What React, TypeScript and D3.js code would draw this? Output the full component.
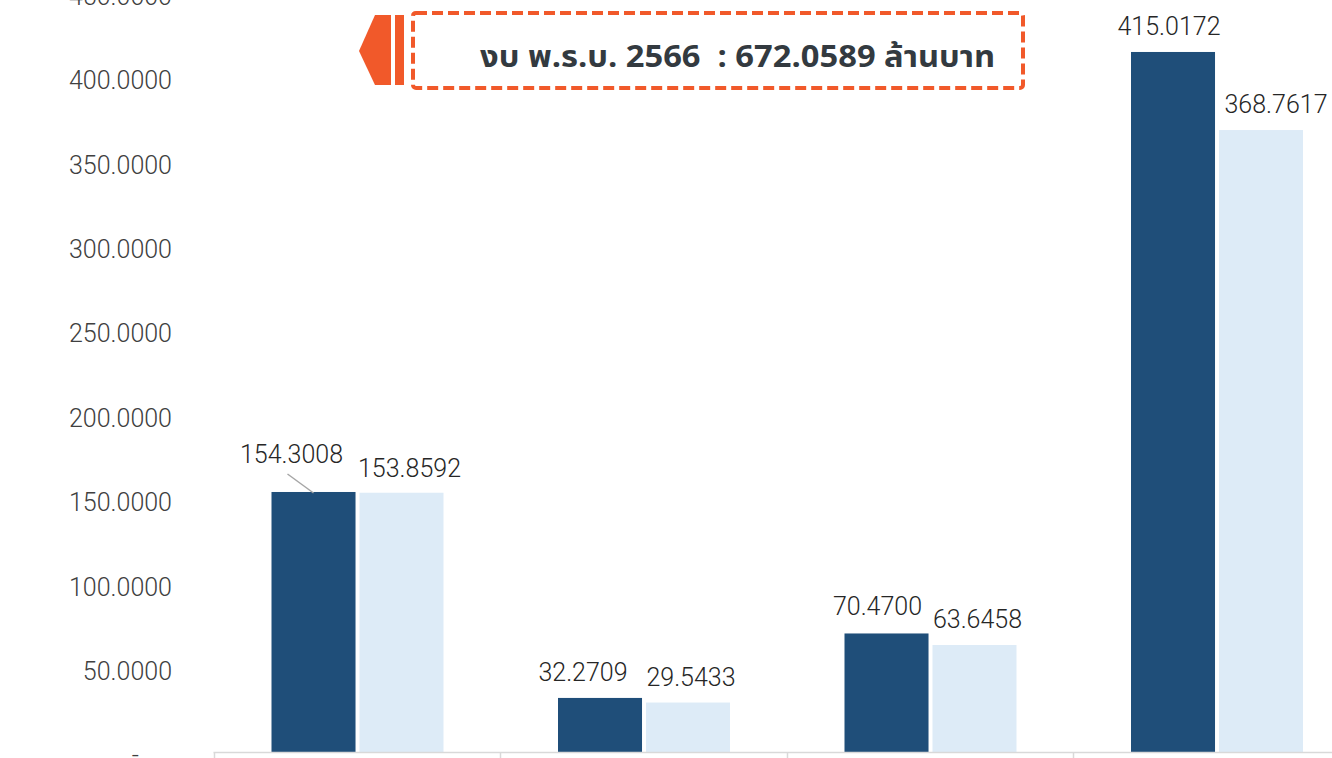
import React from "react";
import * as d3 from "d3";

const categories = ["หมวด 1", "หมวด 2", "หมวด 3", "หมวด 4"];
const seriesNames = ["งบประมาณ", "ผลการเบิกจ่าย"];
const budgetValues = [154.3008, 32.2709, 70.47, 415.0172];
const spentValues = [153.8592, 29.5433, 63.6458, 368.7617];
const yTicks = [0, 50, 100, 150, 200, 250, 300, 350, 400, 450];
const titleText = "งบ พ.ร.บ. 2566  : 672.0589 ล้านบาท";

// label nudges (dx, dy) per series, per category – layout only
const labelNudge = [
  [[-22, -12], [-17, 0], [-9, -1], [-4, 0]],
  [[8, 1], [3, 0], [3, 0], [15, 0]],
];

const W = 1332;
const H = 758;
const colors = ["#1F4E79", "#DDEBF7"];
const FONT = "Roboto, 'Noto Sans', sans-serif";
const THAI_FONT = "'Noto Sans Thai', 'Noto Sans Thai UI', 'Leelawadee UI', Tahoma, 'Noto Sans', sans-serif";

export default function App() {
  const y = d3.scaleLinear().domain([0, 450]).range([752.4, 752.4 - 450 * 1.6877]);
  const x = d3.scaleBand<string>().domain(categories).range([213.5, 1359.5]).paddingInner(0).paddingOuter(0);
  const xs = d3.scaleBand<string>().domain(seriesNames).range([58, 230]).paddingInner(0.045).paddingOuter(0);
  const series = [budgetValues, spentValues];
  const fmt = (v: number) => (v === 0 ? "-" : d3.format(".4f")(v));
  const axisY = Math.round(y(0)) + 0.5;
  const tickXs = categories.map((c) => x(c) as number);

  return (
    <svg width={W} height={H} style={{ position: "absolute", left: 0, top: 0, background: "#fff" }}>
      <rect x={0} y={0} width={W} height={H} fill="#fff" />
      {/* y tick labels */}
      <g fontFamily={FONT} fontSize={25} fontWeight={300} fill="#404040">
        {yTicks.map((t) => (
          <text key={t} x={t === 0 ? 139 : 172} y={y(t) + 3} dy="0.36em" textAnchor="end">
            {fmt(t)}
          </text>
        ))}
      </g>
      {/* bars */}
      {series.map((vals, si) => (
        <g key={si} fill={colors[si]}>
          {vals.map((v, ci) => {
            const bx = (x(categories[ci]) as number) + (xs(seriesNames[si]) as number);
            return <rect key={ci} x={bx} y={y(v)} width={xs.bandwidth()} height={y(0) - y(v)} />;
          })}
        </g>
      ))}
      {/* x axis */}
      <line x1={213.5} x2={W} y1={axisY} y2={axisY} stroke="#D9D9D9" strokeWidth={1.5} />
      {tickXs.map((tx, i) => (
        <line key={i} x1={Math.round(tx) + 0.5} x2={Math.round(tx) + 0.5} y1={axisY} y2={H} stroke="#D9D9D9" strokeWidth={1.5} />
      ))}
      {/* leader line for first label */}
      {(() => {
        const bx = (x(categories[0]) as number) + (xs(seriesNames[0]) as number) + xs.bandwidth() / 2;
        const top = y(budgetValues[0]);
        return <line x1={bx - 26} y1={top - 18} x2={bx} y2={top + 1} stroke="#A6A6A6" strokeWidth={1.5} />;
      })()}
      {/* value labels */}
      <g fontFamily={FONT} fontSize={25} fontWeight={300} fill="#262626" textAnchor="middle">
        {series.map((vals, si) =>
          vals.map((v, ci) => {
            const cx = (x(categories[ci]) as number) + (xs(seriesNames[si]) as number) + xs.bandwidth() / 2;
            const [dx, dy] = labelNudge[si][ci];
            return (
              <text key={`${si}-${ci}`} x={cx + dx} y={y(v) - 26 + dy} dy="0.36em">
                {d3.format(".4f")(v)}
              </text>
            );
          })
        )}
      </g>
      {/* title callout */}
      <polygon points="359,51 375,15 391,15 391,85 375,85" fill="#F1592A" />
      <rect x={395} y={15} width={9} height={70} fill="#F1592A" />
      <rect
        x={413}
        y={13}
        width={610}
        height={75}
        rx={3}
        fill="none"
        stroke="#F1592A"
        strokeWidth={4}
        strokeDasharray="11 5"
      />
      <text
        x={480}
        y={67}
        fontFamily={THAI_FONT}
        fontWeight="bold"
        fontSize={30}
        fill="#333A40"
        textLength={515}
        lengthAdjust="spacingAndGlyphs"
        style={{ whiteSpace: "pre" }}
      >
        {titleText}
      </text>
    </svg>
  );
}
